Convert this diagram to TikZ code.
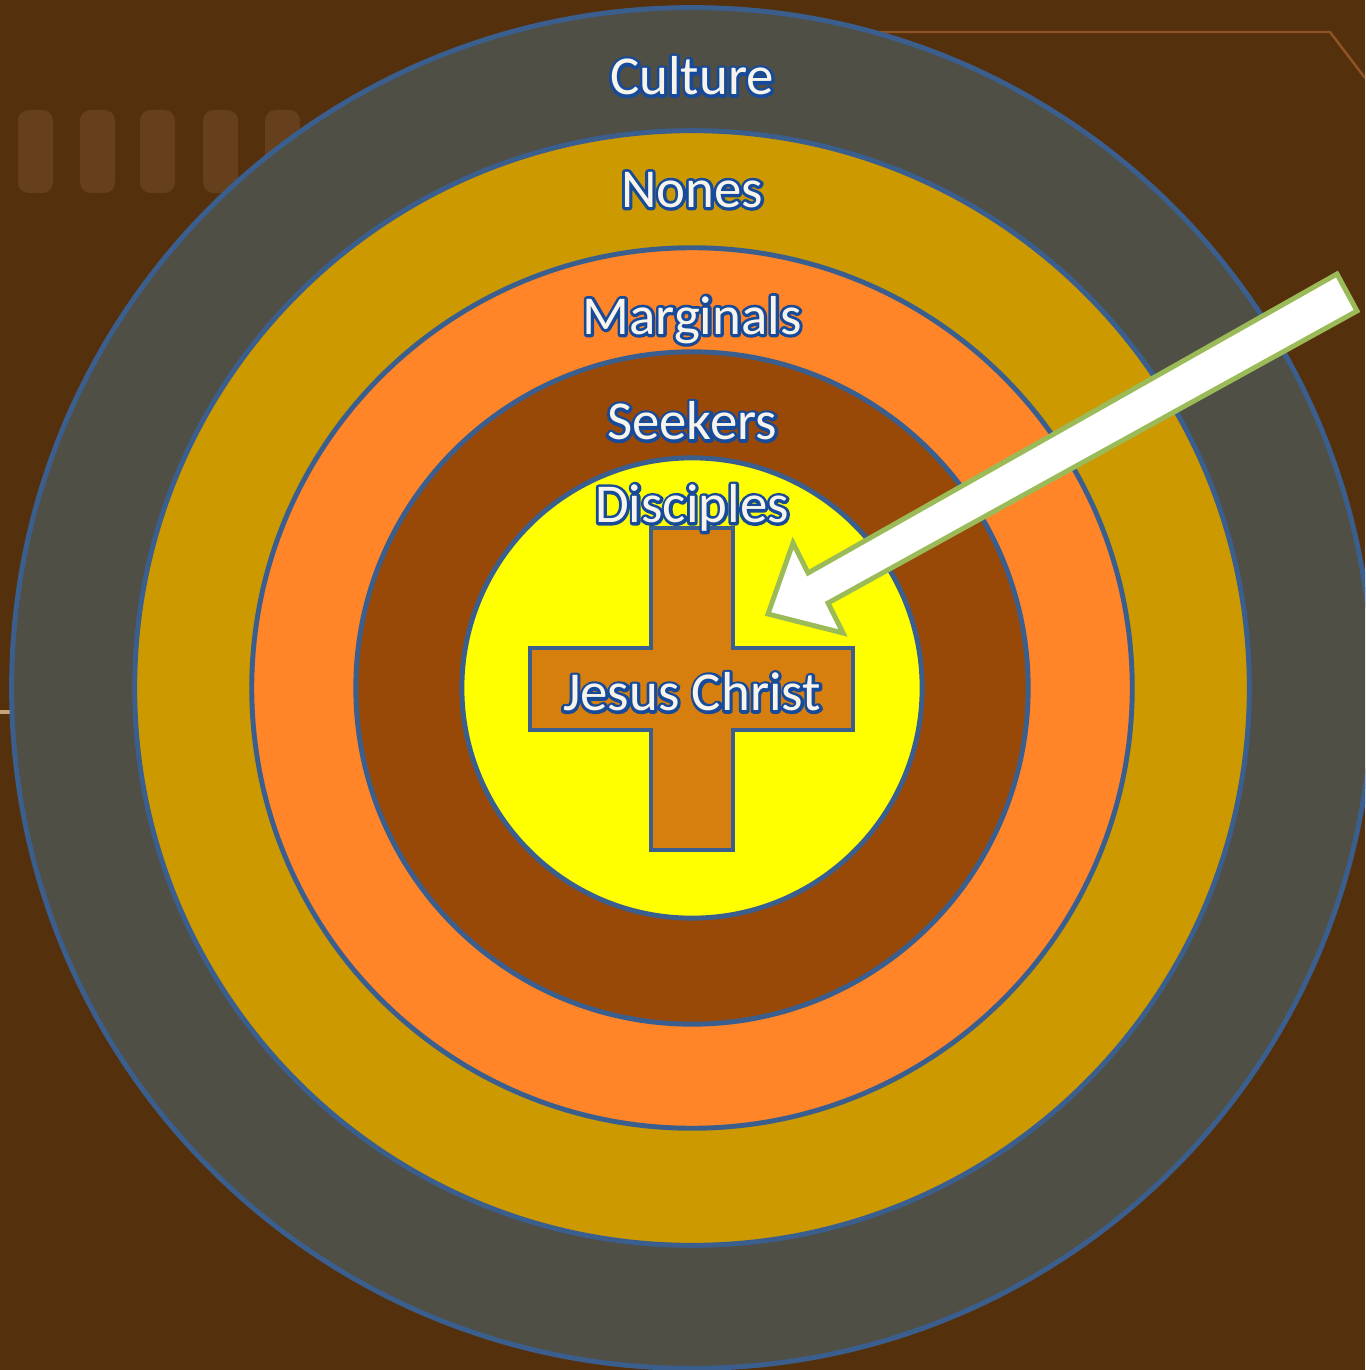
\documentclass[tikz,border=0pt]{standalone}
\usepackage{fontspec}
\setmainfont{Carlito}
\usepackage{xcolor}
\definecolor{bgc}{HTML}{55300C}
\definecolor{blockc}{HTML}{C9A27A}
\definecolor{trimc}{HTML}{8E5424}
\definecolor{culturec}{HTML}{4F4F45}
\definecolor{nonesc}{HTML}{CC9900}
\definecolor{marginc}{HTML}{FF8528}
\definecolor{seekc}{HTML}{984807}
\definecolor{discc}{HTML}{FFFF00}
\definecolor{crossc}{HTML}{D67F0E}
\definecolor{edgec}{HTML}{3A5F8F}
\definecolor{textc}{HTML}{F6F4EC}
\definecolor{pointerc}{HTML}{9BBB59}
% blue stroked letters, put under the white ones
\newcommand{\outlined}[1]{\special{pdf:literal direct 1 Tr 1 j 1.7 w 0.09 0.29 0.60 RG}#1\special{pdf:literal direct 0 Tr}}
\tikzset{
  ring/.style={draw=edgec, line width=1.4pt},
  crossbox/.style={draw=edgec, line width=1.3pt, fill=crossc, line join=miter},
  pointer/.style={draw=pointerc, line width=1.4pt, fill=white, line join=miter},
  ringtext/.style={text=textc, font=\fontsize{15.6}{19}\selectfont, inner sep=0pt},
}

\begin{document}
\begin{tikzpicture}[x=0.01cm, y=-0.01cm]
\useasboundingbox (0,0) rectangle (1365,1370);
\clip (0,0) rectangle (1365,1370);
\fill[bgc] (0,0) rectangle (1365,1370);
\foreach \bx in {18,80,140,203,265}
  \fill[blockc, rounded corners=3pt, opacity=.15] (\bx,110) rectangle ++(35,83);
\draw[trimc, line width=0.7pt] (880,32) -- (1330,32) -- (1365,78);
\draw[blockc, line width=1.2pt] (0,712) -- (10,712);
\coordinate (o) at (692,688);
\draw[ring, fill=culturec] (o) circle (6.80cm);
\draw[ring, fill=nonesc] (o) circle (5.57cm);
\draw[ring, fill=marginc] (o) circle (4.40cm);
\draw[ring, fill=seekc] (o) circle (3.36cm);
\draw[ring, fill=discc] (o) circle (2.30cm);
\draw[crossbox] (651,528) -- (733,528) -- (733,648) -- (853,648) -- (853,730) -- (733,730) -- (733,850)
  -- (651,850) -- (651,730) -- (530,730) -- (530,648) -- (651,648) -- cycle;
\draw[pointer] (1337,274) -- (1357,311) -- (828,603) -- (843,633) -- (768,614) -- (793,543) -- (808,573) -- cycle;
\foreach \nm/\py/\tx in {culture/76/Culture, nones/190/Nones, marginals/320/Marginals,
    seekers/421/Seekers, disciples/508/Disciples, jesus/692/Jesus Christ} {
  \node[ringtext] (\nm-edge) at (692,\py) {\outlined{\tx}};
  \node[ringtext] (\nm) at (692,\py) {\tx};
}
\end{tikzpicture}
\end{document}
